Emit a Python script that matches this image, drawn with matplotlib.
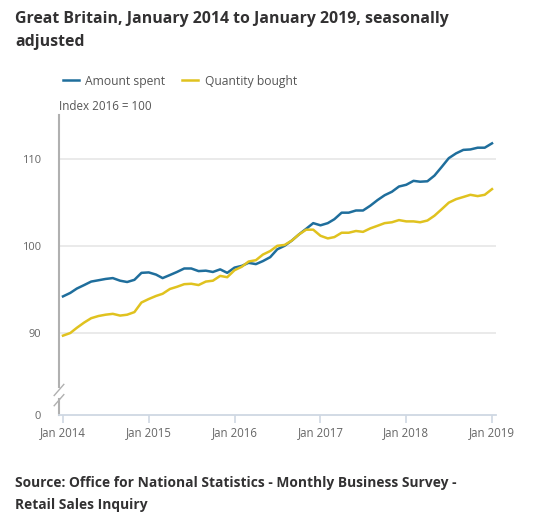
import numpy as np
import pandas as pd
import matplotlib
matplotlib.use("Agg")
import matplotlib.pyplot as plt
import matplotlib.dates as mdates
from matplotlib.lines import Line2D

plt.rcParams['font.family'] = ['Open Sans', 'DejaVu Sans']

# monthly index values, Jan 2014 .. Jan 2019 (2016 = 100)
months = pd.date_range("2014-01-01", "2019-01-01", freq="MS")

amount_spent = [
    94.2, 94.6, 95.1, 95.5, 95.9, 96.05, 96.2, 96.3, 96.0, 95.85, 96.1, 96.9,
    96.95, 96.7, 96.3, 96.65, 97.0, 97.4, 97.4, 97.1, 97.15, 97.0, 97.3, 96.9,
    97.5, 97.7, 98.05, 97.9, 98.25, 98.7, 99.6, 100.0, 100.6, 101.3, 101.95, 102.6,
    102.35, 102.6, 103.05, 103.8, 103.8, 104.05, 104.05, 104.6, 105.25, 105.8, 106.2, 106.8,
    107.0, 107.45, 107.35, 107.4, 108.05, 109.05, 110.05, 110.6, 111.0, 111.05, 111.25, 111.25,
    111.75,
]
quantity_bought = [
    89.7, 90.0, 90.6, 91.2, 91.7, 91.95, 92.1, 92.2, 92.0, 92.1, 92.4, 93.5,
    93.9, 94.25, 94.5, 95.05, 95.3, 95.6, 95.65, 95.5, 95.9, 96.0, 96.55, 96.4,
    97.2, 97.6, 98.2, 98.35, 99.0, 99.4, 100.0, 100.1, 100.6, 101.3, 101.85, 101.85,
    101.15, 100.85, 101.0, 101.5, 101.5, 101.7, 101.6, 102.0, 102.3, 102.6, 102.7, 102.95,
    102.8, 102.8, 102.7, 102.9, 103.45, 104.2, 104.95, 105.35, 105.6, 105.85, 105.7, 105.85,
    106.5,
]

series_names = ["Amount spent", "Quantity bought"]
series_colors = ["#1f6e9c", "#e0c21f"]
y_ticks = [0, 90, 100, 110]
x_ticks = pd.date_range("2014-01-01", "2019-01-01", freq="YS")

title = "Great Britain, January 2014 to January 2019, seasonally\nadjusted"
source = "Source: Office for National Statistics - Monthly Business Survey -\nRetail Sales Inquiry"

# broken y axis: squash everything below 85
BREAK = 85.0
LOW = 80.6


def fwd(v):
    v = np.asarray(v, dtype=float)
    return np.where(v >= BREAK, v, LOW + v * (BREAK - LOW) / BREAK)


def inv(u):
    u = np.asarray(u, dtype=float)
    return np.where(u >= BREAK, u, (u - LOW) * BREAK / (BREAK - LOW))


fig = plt.figure(figsize=(5.4, 5.13), dpi=100)
W, H = 540, 513
ax = fig.add_axes([59 / W, 1 - 415 / H, (496 - 59) / W, (415 - 115) / H])

ax.set_yscale("function", functions=(fwd, inv))

for vals, name, col in zip([amount_spent, quantity_bought], series_names, series_colors):
    ax.plot(months, vals, color=col, lw=1.8, label=name, solid_joinstyle="round")

ax.set_ylim(0, 115)
ax.set_xlim(pd.Timestamp("2013-12-15"), pd.Timestamp("2019-01-18"))

ax.set_yticks(y_ticks)
ax.set_yticklabels([str(t) for t in y_ticks])
ax.set_xticks(x_ticks)
ax.xaxis.set_major_formatter(mdates.DateFormatter("Jan %Y"))
ax.yaxis.set_minor_locator(matplotlib.ticker.NullLocator())

ax.tick_params(axis="y", length=0, pad=13, labelsize=8, labelcolor="#666666")
ax.tick_params(axis="x", length=6, width=1.2, color="#cfd8e3", pad=2,
               labelsize=8.3, labelcolor="#666666")

for g in y_ticks[1:]:
    ax.axhline(g, color="#e8e8e8", lw=1.3, zorder=0)

for s in ["top", "right", "left"]:
    ax.spines[s].set_visible(False)
ax.spines["bottom"].set_color("#cfd8e3")
ax.spines["bottom"].set_linewidth(1.3)

# left axis line with break marks
ax.plot([0, 0], [1, 0.095], transform=ax.transAxes, color="#b0b0b0", lw=1.5, clip_on=False)
ax.plot([0, 0], [0.055, 0], transform=ax.transAxes, color="#b0b0b0", lw=1.5, clip_on=False)
for yb in [0.058, 0.092]:
    ax.plot([-0.011, 0.011], [yb - 0.027, yb + 0.010], transform=ax.transAxes,
            color="#b0b0b0", lw=1.0, clip_on=False)

handles = [Line2D([], [], color=c, lw=1.8) for c in series_colors]
fig.legend(handles, series_names, loc="center left", bbox_to_anchor=(52 / W, 1 - 81 / H),
           ncol=2, frameon=False, fontsize=8.7, handlelength=1.3, handletextpad=0.55,
           columnspacing=1.4, labelcolor="#555555")

fig.text(59 / W, 1 - 107 / H, "Index 2016 = 100", ha="left", va="center",
         fontsize=8.4, color="#555555")

fig.text(15 / W, 1 - 11 / H, title, ha="left", va="top", fontsize=11.4,
         fontweight="bold", color="#323132", linespacing=1.62)
fig.text(15 / W, 1 - 476 / H, source, ha="left", va="top", fontsize=9.95,
         fontweight="bold", color="#323132", linespacing=1.75)

fig.savefig("out.png", dpi=100)
